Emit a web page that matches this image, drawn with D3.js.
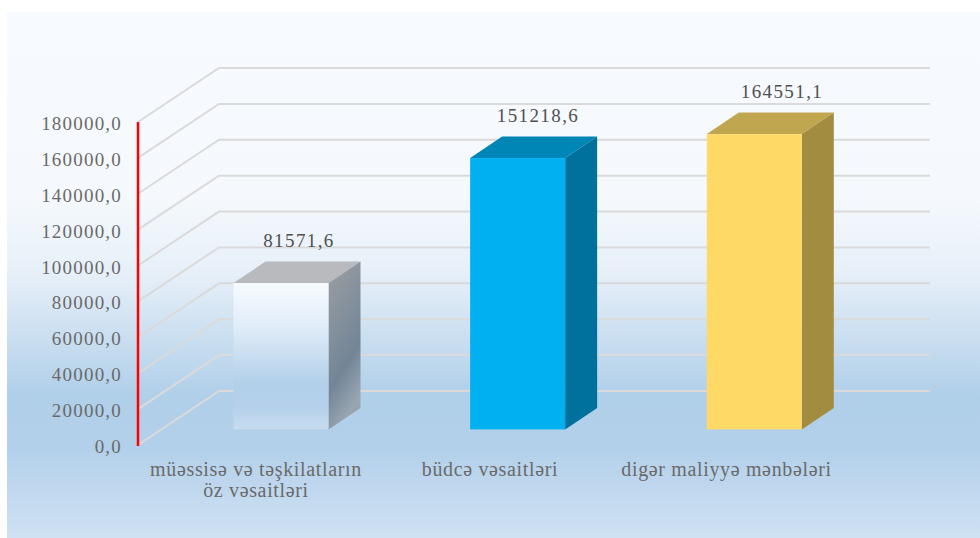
<!DOCTYPE html>
<html><head><meta charset="utf-8">
<script src="https://cdn.jsdelivr.net/npm/d3@7/dist/d3.min.js"></script>
<style>html,body{margin:0;padding:0;background:#fff}svg{display:block}text{font-family:"Liberation Serif",serif}</style>
</head><body><svg id="c" width="980" height="538"></svg>
<script>
const categories=["müəssisə və təşkilatların|öz vəsaitləri","büdcə vəsaitləri","digər maliyyə mənbələri"];
const values=[81571.6,151218.6,164551.1];
const valueLabels=["81571,6","151218,6","164551,1"];
const ticks=[0,20000,40000,60000,80000,100000,120000,140000,160000,180000];
const frontColors=["url(#bar1)","#00b0f0","#ffd966"];
const sideColors=["url(#side1)","#00719c","#a28c40"];
const topColors=["#b8babd","#0086b6","#c1a650"];

const svg=d3.select("#c");
const defs=svg.append("defs");
function grad(id,x2,y2,stops){const g=defs.append("linearGradient").attr("id",id).attr("x1",0).attr("y1",0).attr("x2",x2).attr("y2",y2);
 stops.forEach(s=>g.append("stop").attr("offset",s[0]).attr("stop-color",s[1]));}
grad("bg",0,1,[[0,"#f7fafe"],[0.35,"#f5f9fd"],[0.5,"#e6eff8"],[0.73,"#b0cfe9"],[0.83,"#b3d0ea"],[1,"#cfe1f3"]]);
grad("bar1",0,1,[[0,"#f7fbff"],[0.3,"#e0ecf8"],[0.68,"#b3d0ea"],[0.85,"#b4d0ea"],[1,"#c8dcf0"]]);
grad("side1",0.3,1,[[0,"#9d9fa3"],[0.72,"#728597"],[1,"#98a5b1"]]);

svg.append("rect").attr("x",7).attr("y",12).attr("width",973).attr("height",526).attr("fill","url(#bg)");

// Value axis runs along the front-left edge of the 3D box
const y=d3.scaleLinear().domain([0,180000]).range([445,122]);
const axisX=138, right=930;
const wall={x:81,y:-54};       // floor depth from the axis to the back wall
const box={x:32,y:-21.5};      // depth of each bar
const barInset=-15.6;          // bars stand this far up from the floor's front edge
const bw=95;

const barX=d3.scalePoint().domain(d3.range(values.length)).range([233.5,706.8]);
const labelX=d3.scaleOrdinal().domain(d3.range(values.length)).range([299,538,782]);
const catX=d3.scaleOrdinal().domain(d3.range(values.length)).range([256,490,726.5]);
const yBar=v=>y(v)+barInset;
const poly=p=>d3.line()(p)+"Z";

svg.append("g").attr("fill","none").attr("stroke","#dadada").attr("stroke-width",2)
 .selectAll("path").data(ticks).join("path")
 .attr("d",t=>d3.line()([[axisX,y(t)],[axisX+wall.x,y(t)+wall.y],[right,y(t)+wall.y]]));

const bars=svg.append("g").selectAll("g").data(values).join("g");
bars.append("path").attr("fill",(d,i)=>topColors[i]).attr("d",(d,i)=>{const a=barX(i),t=yBar(d);
 return poly([[a,t],[a+box.x,t+box.y],[a+bw+box.x,t+box.y],[a+bw,t]]);});
bars.append("path").attr("fill",(d,i)=>sideColors[i]).attr("d",(d,i)=>{const a=barX(i)+bw,t=yBar(d),b=yBar(0);
 return poly([[a,t],[a+box.x,t+box.y],[a+box.x,b+box.y],[a,b]]);});
bars.append("rect").attr("fill",(d,i)=>frontColors[i]).attr("x",(d,i)=>barX(i)).attr("y",d=>yBar(d)).attr("width",bw).attr("height",d=>yBar(0)-yBar(d));

svg.append("line").attr("x1",axisX).attr("x2",axisX).attr("y1",y(180000)).attr("y2",y(0)+1).attr("stroke","#ff0000").attr("stroke-width",2.5);

svg.append("g").selectAll("text").data(ticks).join("text")
 .attr("x",122).attr("y",t=>y(t)+8).attr("text-anchor","end").attr("font-size",19).attr("letter-spacing",1.2).attr("fill","#6a6a6a")
 .text(t=>d3.format("d")(t)+",0");

svg.append("g").selectAll("text").data(values).join("text")
 .attr("x",(d,i)=>labelX(i)).attr("y",d=>yBar(d)-36).attr("text-anchor","middle").attr("font-size",19).attr("letter-spacing",1.4).attr("fill","#505050")
 .text((d,i)=>valueLabels[i]);

const cats=svg.append("g").selectAll("text").data(categories).join("text")
 .attr("text-anchor","middle").attr("font-size",20).attr("letter-spacing",0.65).attr("fill","#6a6a6a");
cats.selectAll("tspan").data((d,i)=>d.split("|").map(s=>({s,i}))).join("tspan")
 .attr("x",d=>catX(d.i)).attr("y",(d,j)=>476+j*21).text(d=>d.s);
</script></body></html>
